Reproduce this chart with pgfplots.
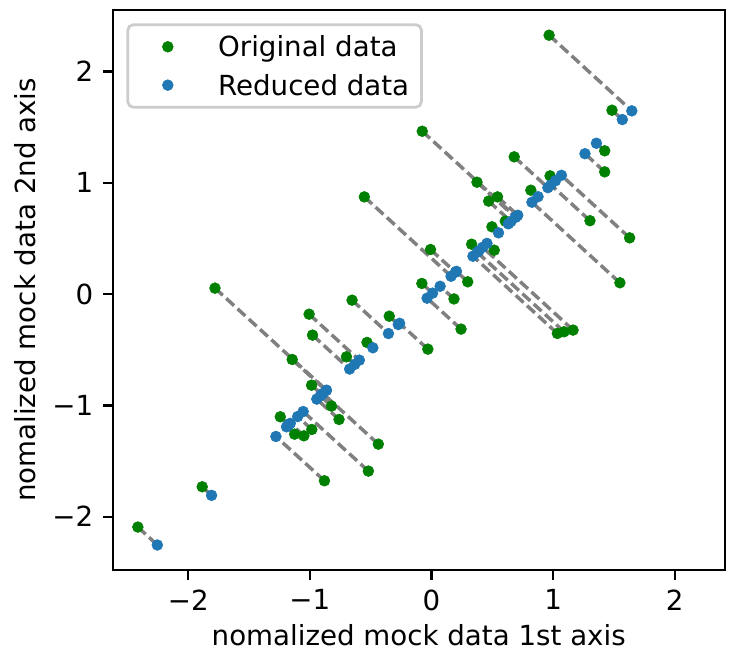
\documentclass[border=0pt]{standalone}
\usepackage{fontspec}
\setmainfont{DejaVu Sans}
\usepackage{pgfplots}
\pgfplotsset{compat=1.18}
\usepackage{pgfplotstable}
\definecolor{mplgreen}{HTML}{008000}
\definecolor{mplblue}{HTML}{1F77B4}
\definecolor{mplgray}{HTML}{808080}
\definecolor{legframe}{HTML}{CCCCCC}

\pgfplotstableread{
gx gy bx by
0.967 2.327 1.647 1.647
1.484 1.653 1.569 1.569
1.424 1.288 1.356 1.356
1.424 1.099 1.262 1.262
0.680 1.234 0.957 0.957
1.303 0.660 0.982 0.982
0.975 1.063 1.019 1.019
1.629 0.506 1.068 1.068
0.817 0.934 0.876 0.876
1.549 0.102 0.826 0.826
0.374 1.006 0.690 0.690
-0.076 1.464 0.694 0.694
0.470 0.836 0.653 0.653
0.543 0.874 0.709 0.709
0.497 0.605 0.551 0.551
0.607 0.656 0.632 0.632
0.330 0.449 0.390 0.390
0.516 0.395 0.456 0.456
-0.008 0.401 0.197 0.197
0.298 0.111 0.205 0.205
-0.079 0.096 0.009 0.009
0.185 -0.043 0.071 0.071
-0.347 -0.198 -0.273 -0.273
0.243 -0.314 -0.036 -0.036
-0.030 -0.494 -0.262 -0.262
1.035 -0.353 0.341 0.341
1.090 -0.338 0.376 0.376
1.164 -0.323 0.421 0.421
-0.552 0.874 0.161 0.161
-1.780 0.054 -0.863 -0.863
-0.653 -0.054 -0.354 -0.354
-1.006 -0.180 -0.593 -0.593
-0.978 -0.368 -0.673 -0.673
-0.530 -0.434 -0.482 -0.482
-0.699 -0.563 -0.631 -0.631
-1.145 -0.587 -0.866 -0.866
-0.986 -0.818 -0.902 -0.902
-0.822 -1.006 -0.914 -0.914
-0.760 -1.126 -0.943 -0.943
-0.437 -1.348 -0.893 -0.893
-1.243 -1.102 -1.173 -1.173
-1.125 -1.258 -1.192 -1.192
-1.049 -1.273 -1.161 -1.161
-0.984 -1.216 -1.100 -1.100
-0.519 -1.590 -1.055 -1.055
-0.880 -1.677 -1.279 -1.279
-1.885 -1.731 -1.808 -1.808
-2.414 -2.093 -2.254 -2.254
}\pcadata

\begin{document}
\begin{tikzpicture}
\begin{axis}[
  name=main,
  at={(0,0)}, anchor=south west,
  scale only axis, width=220.2bp, height=201.7bp,
  xmin=-2.62, xmax=2.41, ymin=-2.48, ymax=2.556,
  xtick={-2,-1,0,1,2}, xticklabels={−2,−1,0,1,2},
  ytick={-2,-1,0,1,2}, yticklabels={−2,−1,0,1,2},
  tick align=outside, major tick length=3.5bp,
  xtick pos=bottom, ytick pos=left,
  every tick/.style={black, line width=0.8bp},
  axis line style={line width=0.8bp},
  xlabel={nomalized mock data 1st axis},
  ylabel={nomalized mock data 2nd axis},
  xlabel style={yshift=2bp},
  ylabel style={yshift=-1bp},
  legend cell align=left,
  legend image code/.code={\path[draw=none, fill=none] (0bp,-1bp) rectangle (20bp,1bp); \draw[#1] plot coordinates {(10bp,0bp)};},
  legend style={at={(0,1)}, anchor=north west, xshift=4.9bp, yshift=-4.9bp,
    draw=legframe, line width=1bp, rounded corners=2bp, fill=white,
    nodes={inner sep=0pt, text height=7.3bp, text depth=0bp},
    /tikz/every odd column/.append style={column sep=8.1bp},
    row sep=6.5bp, inner xsep=4.4bp, inner ysep=4.3bp},
]
\addplot[only marks, mark=*, mark size=1.95bp, mark options={draw=mplgreen, fill=mplgreen, line width=0.2bp}] table[x=gx, y=gy] {\pcadata};
\addlegendentry{Original data}
\addplot[only marks, mark=*, mark size=1.95bp, mark options={draw=mplblue, fill=mplblue, line width=0.2bp}] table[x=bx, y=by] {\pcadata};
\addlegendentry{Reduced data}
\addplot[forget plot, mplgray, -,
  quiver={u=\thisrow{bx}-\thisrow{gx}, v=\thisrow{by}-\thisrow{gy},
    every arrow/.append style={mplgray, line width=1.25bp, dash pattern=on 3.8bp off 1.7bp}}]
  table[x=gx, y=gy] {\pcadata};
\end{axis}
\pgfresetboundingbox
\path[use as bounding box] (-40.6bp,-28.5bp) rectangle (222.5bp,205.2bp);
\end{tikzpicture}
\end{document}
